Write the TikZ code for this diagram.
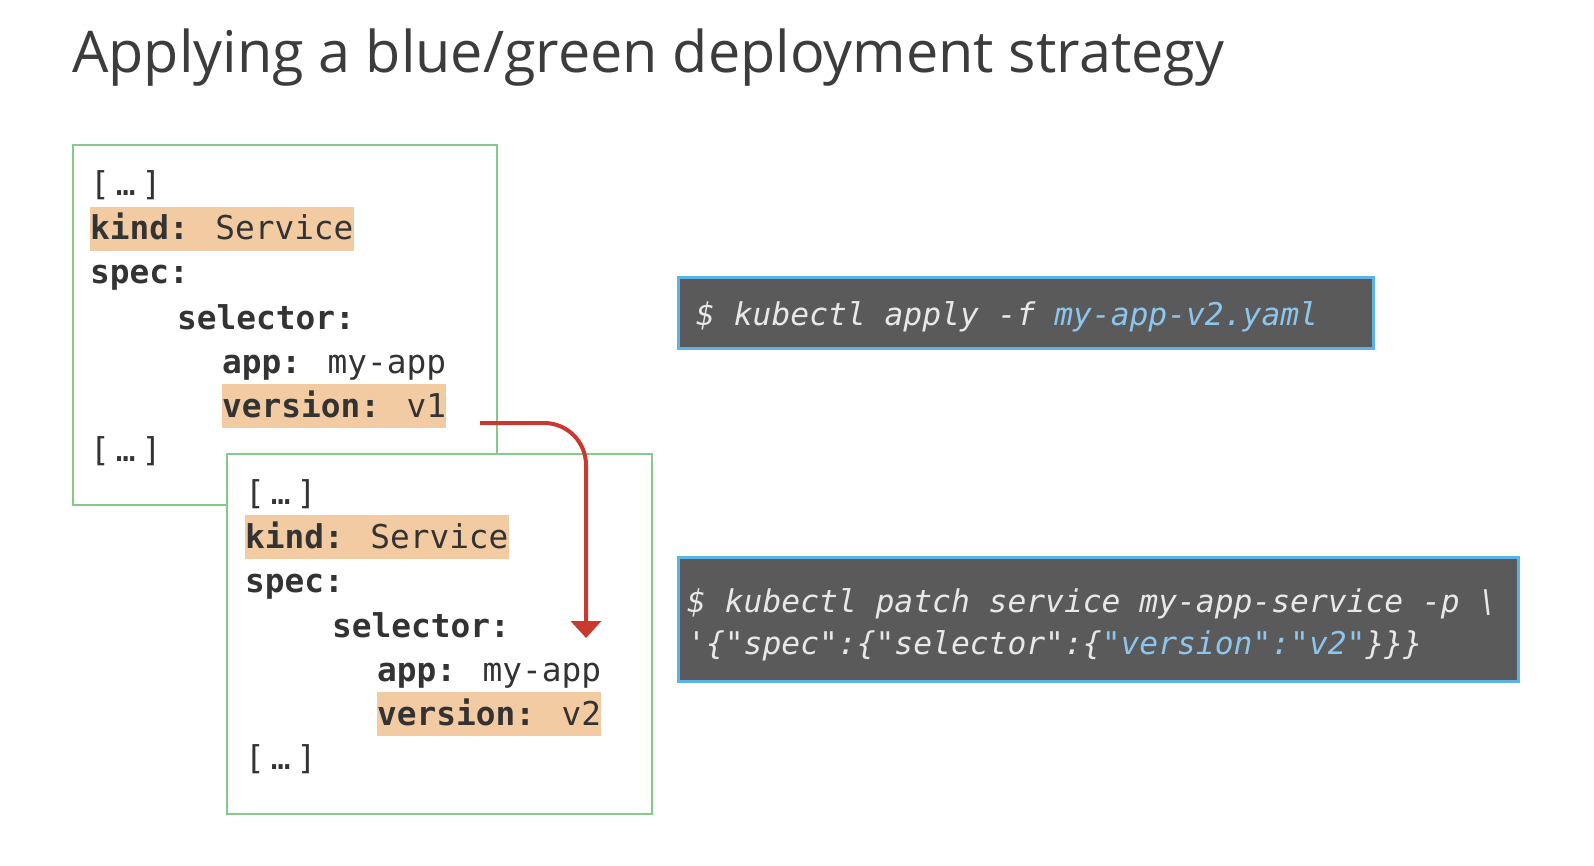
\documentclass[tikz,border=0pt]{standalone}
\usepackage{fontspec}
\setmainfont{Open Sans}
\newfontfamily\codefont{DejaVu Sans Mono}
\usetikzlibrary{arrows.meta}

\definecolor{titlegray}{HTML}{3C3C3C}
\definecolor{codegray}{HTML}{333333}
\definecolor{frameGreen}{HTML}{86C98A}
\definecolor{hilite}{HTML}{F2CBA3}
\definecolor{termfill}{HTML}{5A5A5A}
\definecolor{termedge}{HTML}{5AB4E5}
\definecolor{termtext}{HTML}{E8E8E8}
\definecolor{termblue}{HTML}{8CC6EE}
\definecolor{arrowred}{HTML}{C9392F}

\newcommand{\elided}{[\kern6pt…\kern6pt]}

\tikzset{
  yamlbox/.style={draw=frameGreen, line width=1.6pt, fill=white},
  codeline/.style={anchor=base west, inner sep=0pt, text=codegray,
    font=\codefont\fontsize{32.8}{40}\selectfont},
  hiline/.style={codeline, fill=hilite, text height=33pt, text depth=11pt},
  termbox/.style={draw=termedge, line width=3pt, fill=termfill},
  termline/.style={anchor=base west, inner sep=0pt, text=termtext,
    font=\codefont\itshape\fontsize{31.3}{38}\selectfont},
  switcharrow/.style={draw=arrowred, line width=4pt, rounded corners=42pt,
    -{Triangle[width=30pt,length=17pt]}}
}

\begin{document}
\begin{tikzpicture}[x=1pt,y=-1pt]
\useasboundingbox[fill=white] (0,0) rectangle (1594,866);

% heading
\node[anchor=base west, inner sep=0pt, text=titlegray,
  font=\fontsize{57.5}{62}\selectfont] (title) at (72,73)
  {Applying a blue/green deployment strategy};

% service manifest selecting v1
\draw[yamlbox] (73,145) rectangle (497,505);
\node[codeline] (a0) at (90,196) {\elided};
\node[hiline]   (a1) at (90,240) {\textbf{kind:} Service};
\node[codeline] (a2) at (90,284) {\textbf{spec:}};
\node[codeline] (a3) at (177,329) {\textbf{selector:}};
\node[codeline] (a4) at (222,373) {\textbf{app:} my-app};
\node[hiline]   (a5) at (222,417) {\textbf{version:} v1};
\node[codeline] (a6) at (90,461) {\elided};

% service manifest selecting v2
\draw[yamlbox] (227,454) rectangle (652,814);
\node[codeline] (b0) at (245,504) {\elided};
\node[hiline]   (b1) at (245,548) {\textbf{kind:} Service};
\node[codeline] (b2) at (245,592) {\textbf{spec:}};
\node[codeline] (b3) at (332,637) {\textbf{selector:}};
\node[codeline] (b4) at (377,681) {\textbf{app:} my-app};
\node[hiline]   (b5) at (377,725) {\textbf{version:} v2};
\node[codeline] (b6) at (245,769) {\elided};

% switch of the selector
\coordinate (arrowstart) at (480,423);
\coordinate (arrowend) at (586,638);
\draw[switcharrow] (arrowstart) -| (arrowend);

% commands
\draw[termbox] (678,278) rectangle (1373,348);
\node[termline] (cmdA) at (696,325)
  {\$ kubectl apply -f \textcolor{termblue}{my-app-v2.yaml}};

\draw[termbox] (678,557) rectangle (1518,681);
\node[termline] (cmdB1) at (687,612)
  {\$ kubectl patch service my-app-service -p \textbackslash};
\node[termline] (cmdB2) at (687,654)
  {'\{"spec":\{"selector":\{\textcolor{termblue}{"version":"v2"}\}\}\}};
\end{tikzpicture}
\end{document}
